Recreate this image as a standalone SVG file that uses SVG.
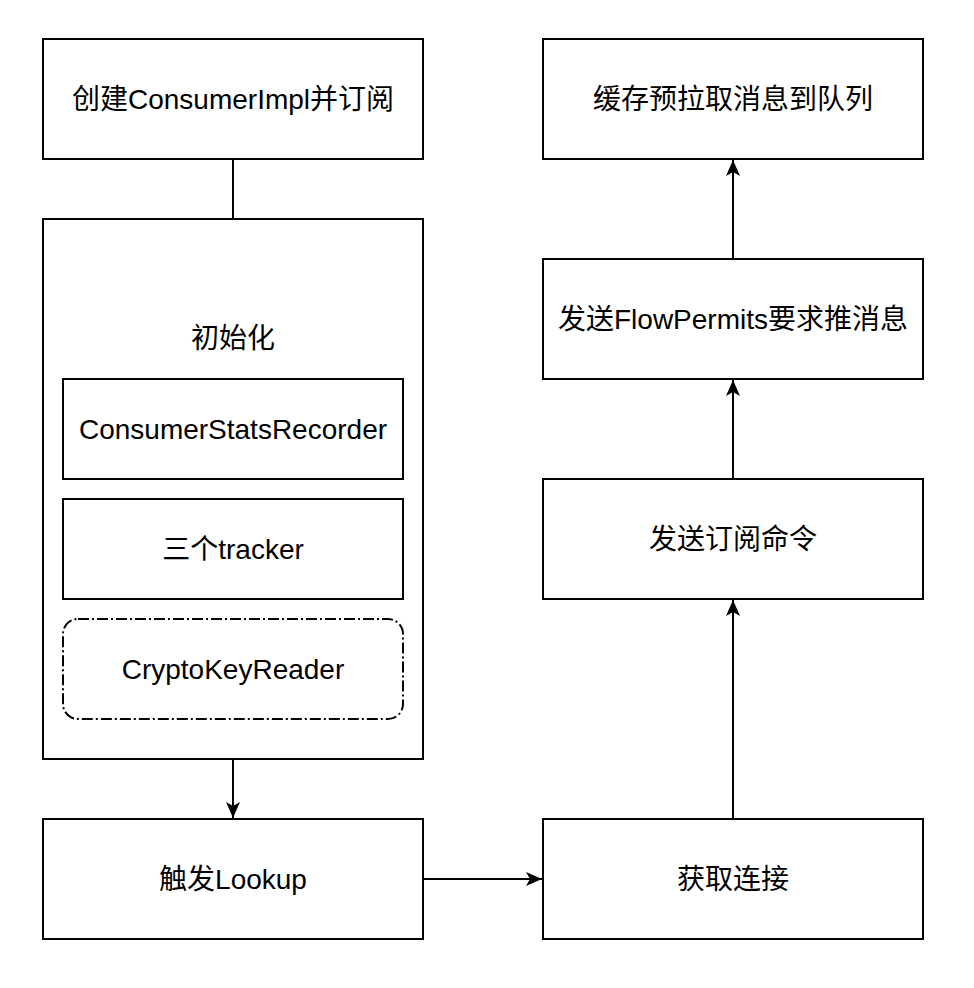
<svg xmlns="http://www.w3.org/2000/svg" width="974" height="988" viewBox="0 0 974 988">
<style>
.box{fill:#fff;stroke:#000;stroke-width:2}
.dd{fill:#fff;stroke:#000;stroke-width:2;stroke-dasharray:11 3 2 3}
.t{font-family:"Liberation Sans","Noto Sans CJK SC",sans-serif;font-size:28px;fill:#000;text-anchor:middle}
.c{fill:none;stroke:#000;stroke-width:2}
</style>
<defs>
<marker id="arr" markerUnits="userSpaceOnUse" markerWidth="18" markerHeight="16" refX="16" refY="7" orient="auto">
<path d="M0,0 L16,7 L0,14 L4,7 Z" fill="#000"/>
</marker>
</defs>
<rect width="974" height="988" fill="#fff"/>
<g id="connectors">
<line class="c" x1="233" y1="159" x2="233" y2="219"/>
<line class="c" x1="233" y1="759" x2="233" y2="818" marker-end="url(#arr)"/>
<line class="c" x1="423" y1="879" x2="542" y2="879" marker-end="url(#arr)"/>
<line class="c" x1="733" y1="819" x2="733" y2="600" marker-end="url(#arr)"/>
<line class="c" x1="733" y1="479" x2="733" y2="380" marker-end="url(#arr)"/>
<line class="c" x1="733" y1="259" x2="733" y2="160" marker-end="url(#arr)"/>
</g>
<g id="create">
<rect class="box" x="43" y="39" width="380" height="120"/>
<text class="t" x="233" y="109">创建ConsumerImpl并订阅</text>
</g>
<g id="init">
<rect class="box" x="43" y="219" width="380" height="540"/>
<text class="t" x="233" y="348">初始化</text>
</g>
<g id="statsRecorder">
<rect class="box" x="63" y="379" width="340" height="100"/>
<text class="t" x="233" y="439">ConsumerStatsRecorder</text>
</g>
<g id="trackers">
<rect class="box" x="63" y="499" width="340" height="100"/>
<text class="t" x="233" y="559">三个tracker</text>
</g>
<g id="cryptoKeyReader">
<rect class="dd" x="63" y="619" width="340" height="100" rx="15" ry="15"/>
<text class="t" x="233" y="679">CryptoKeyReader</text>
</g>
<g id="lookup">
<rect class="box" x="43" y="819" width="380" height="120"/>
<text class="t" x="233" y="889">触发Lookup</text>
</g>
<g id="getConnection">
<rect class="box" x="543" y="819" width="380" height="120"/>
<text class="t" x="733" y="889">获取连接</text>
</g>
<g id="subscribe">
<rect class="box" x="543" y="479" width="380" height="120"/>
<text class="t" x="733" y="549">发送订阅命令</text>
</g>
<g id="flowPermits">
<rect class="box" x="543" y="259" width="380" height="120"/>
<text class="t" x="733" y="329">发送FlowPermits要求推消息</text>
</g>
<g id="cache">
<rect class="box" x="543" y="39" width="380" height="120"/>
<text class="t" x="733" y="109">缓存预拉取消息到队列</text>
</g>
</svg>
